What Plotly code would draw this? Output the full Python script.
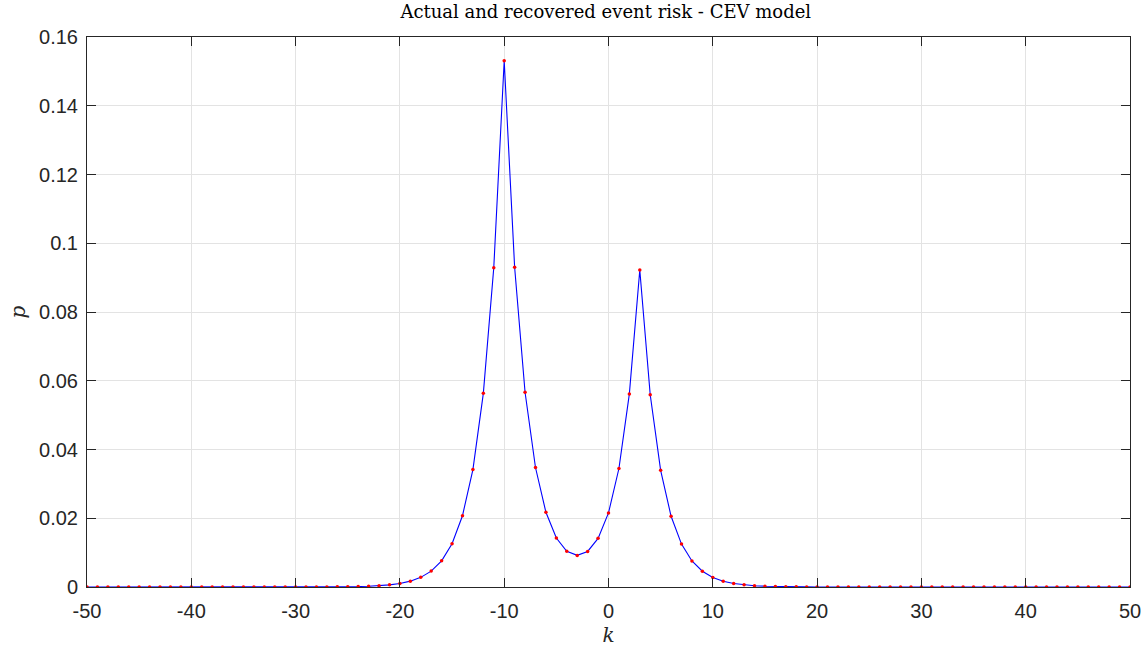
import plotly.graph_objects as go

k = list(range(-50, 51))

# p(k) (values not listed are ~0)
p = {
    -38: 0.0000001, -37: 0.0000002, -36: 0.0000004, -35: 0.0000006, -34: 0.0000010,
    -33: 0.0000016, -32: 0.0000026, -31: 0.0000042,
    -30: 0.0000070, -29: 0.0000115, -28: 0.0000189, -27: 0.0000312, -26: 0.0000514,
    -25: 0.0000847, -24: 0.0001396, -23: 0.0002302, -22: 0.0003796, -21: 0.0006258,
    -20: 0.001032, -19: 0.001701, -18: 0.002805, -17: 0.004624, -16: 0.007624,
    -15: 0.01257, -14: 0.02073, -13: 0.03417, -12: 0.05634, -11: 0.09288,
    -10: 0.1531, -9: 0.09303, -8: 0.05666, -7: 0.03476, -6: 0.02173,
    -5: 0.01424, -4: 0.01040, -3: 0.00920, -2: 0.01035, -1: 0.01415,
    0: 0.02156, 1: 0.03447, 2: 0.05618, 3: 0.09223, 4: 0.05594,
    5: 0.03393, 6: 0.02058, 7: 0.01248, 8: 0.007572, 9: 0.004592,
    10: 0.002785, 11: 0.001689, 12: 0.001025, 13: 0.0006215, 14: 0.000377,
    15: 0.0002286, 16: 0.0001387, 17: 0.0000841, 18: 0.000051, 19: 0.0000309,
    20: 0.0000188, 21: 0.0000114, 22: 0.0000069, 23: 0.0000042, 24: 0.0000025,
    25: 0.0000015, 26: 0.0000009, 27: 0.0000006, 28: 0.0000003, 29: 0.0000002,
    30: 0.0000001,
}
p_values = [p.get(kk, 0.0) for kk in k]

x_ticks = list(range(-50, 51, 10))
x_tick_text = ["-50", "-40", "-30", "-20", "-10", "0", "10", "20", "30", "40", "50"]
y_ticks = [0, 0.02, 0.04, 0.06, 0.08, 0.1, 0.12, 0.14, 0.16]
y_tick_text = ["0", "0.02", "0.04", "0.06", "0.08", "0.1", "0.12", "0.14", "0.16"]

fig = go.Figure()
fig.add_trace(go.Scatter(x=k, y=p_values, mode="lines", line=dict(color="#0000ff", width=1.1),
                         name="actual", showlegend=False))
fig.add_trace(go.Scatter(x=k, y=p_values, mode="markers",
                         marker=dict(color="#ff0000", size=3.5, line=dict(width=0)),
                         name="recovered", showlegend=False))

axis_common = dict(
    showline=True, linecolor="#262626", linewidth=1, mirror="ticks",
    ticks="inside", ticklen=9, tickcolor="#262626", tickwidth=1,
    showgrid=True, gridcolor="#e3e3e3", gridwidth=1, zeroline=False,
    automargin=False,
    tickfont=dict(family="Liberation Sans, Arial, sans-serif", size=20, color="#262626"),
)

fig.update_layout(
    width=1143, height=647,
    margin=dict(l=87, r=13, t=37, b=60),
    paper_bgcolor="white", plot_bgcolor="white",
    title=dict(text="Actual and recovered event risk - CEV model", x=0.53, xanchor="center",
               y=0.992, yanchor="top",
               font=dict(family="DejaVu Serif, serif", size=18, color="#000000")),
    xaxis=dict(range=[-50, 50], tickvals=x_ticks, ticktext=x_tick_text, ticklabelstandoff=6,
               **axis_common,
               title=dict(text="<i>k</i>", standoff=7,
                          font=dict(family="DejaVu Serif, serif", size=20, color="#262626"))),
    yaxis=dict(range=[0, 0.16], tickvals=y_ticks, ticktext=y_tick_text, ticklabelstandoff=4,
               **axis_common,
               title=dict(text="<i>p</i>", standoff=8,
                          font=dict(family="DejaVu Serif, serif", size=20, color="#262626"))),
)

fig.write_html("out.html")
